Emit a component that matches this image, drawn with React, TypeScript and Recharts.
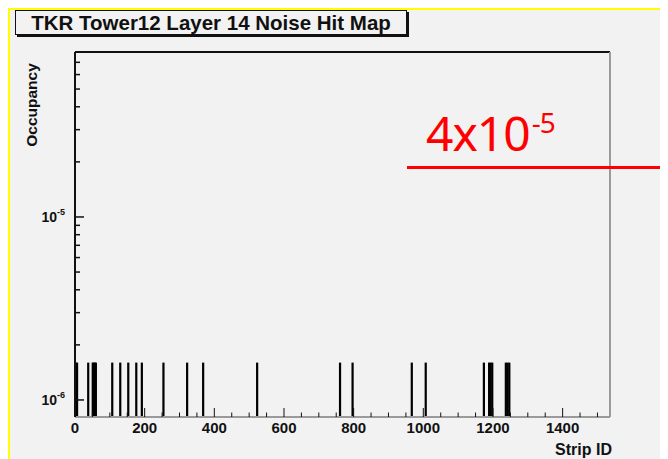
import { BarChart, Bar, XAxis, YAxis, ReferenceLine } from 'recharts';

// strip IDs with one noise hit
const hitStrips = [
  3, 6, 38, 51, 54, 57, 60, 107, 130, 153, 176, 192, 254, 322, 368, 523,
  761, 797, 967, 1007, 1174, 1189, 1193, 1198, 1237, 1242, 1247,
];
// every visible hit sits at the same occupancy
const hitOccupancy = [
  1.6e-6, 1.6e-6, 1.6e-6, 1.6e-6, 1.6e-6, 1.6e-6, 1.6e-6, 1.6e-6, 1.6e-6,
  1.6e-6, 1.6e-6, 1.6e-6, 1.6e-6, 1.6e-6, 1.6e-6, 1.6e-6, 1.6e-6, 1.6e-6,
  1.6e-6, 1.6e-6, 1.6e-6, 1.6e-6, 1.6e-6, 1.6e-6, 1.6e-6, 1.6e-6, 1.6e-6,
];

const xMajorTicks = [0, 200, 400, 600, 800, 1000, 1200, 1400];
const xAllTicks = [
  0, 50, 100, 150, 200, 250, 300, 350, 400, 450, 500, 550, 600, 650, 700, 750,
  800, 850, 900, 950, 1000, 1050, 1100, 1150, 1200, 1250, 1300, 1350, 1400,
  1450, 1500,
];
const yMajorTicks = [1e-6, 1e-5];
const yMajorLabels = ['-6', '-5'];
const yAllTicks = [
  1e-6, 2e-6, 3e-6, 4e-6, 5e-6, 6e-6, 7e-6, 8e-6, 9e-6,
  1e-5, 2e-5, 3e-5, 4e-5, 5e-5, 6e-5, 7e-5,
];
const yDomain = [8.07e-7, 7.97e-5];
const xDomain = [0, 1536];

const data = hitStrips.map((strip, i) => ({ strip, occ: hitOccupancy[i] }));

const INK = '#111';

// the bins are far narrower than a pixel, so give every hit a visible stroke
function HitBar({ x, y, width, height }: any) {
  const cx = x + width / 2;
  return <rect x={cx - 1.1} y={y} width={2.2} height={height} fill="#000" />;
}

function XTick({ x, y, payload }: any) {
  const major = xMajorTicks.includes(payload.value);
  return (
    <g>
      <line x1={x} x2={x} y1={y} y2={y - (major ? 9 : 4.5)} stroke={INK} strokeWidth={1} />
      {major && (
        <text x={x} y={y + 16} textAnchor="middle" fontSize={15} fontWeight="bold" fill={INK}
          fontFamily="Liberation Sans, Arial, sans-serif">
          {payload.value}
        </text>
      )}
    </g>
  );
}

function YTick({ x, y, payload }: any) {
  const idx = yMajorTicks.findIndex((t) => Math.abs(t - payload.value) / t < 1e-6);
  const major = idx >= 0;
  return (
    <g>
      <line x1={x} x2={x + (major ? 9 : 5)} y1={y} y2={y} stroke={INK} strokeWidth={1.5} />
      {major && (
        <text x={x - 10} y={y + 5} textAnchor="end" fontSize={14} fontWeight="bold" fill={INK}
          fontFamily="Liberation Sans, Arial, sans-serif">
          <tspan>10</tspan>
          <tspan dy={-7} fontSize={9}>{yMajorLabels[idx]}</tspan>
        </text>
      )}
    </g>
  );
}

export default function App() {
  return (
    <div style={{ position: 'relative', width: 660, height: 451, background: '#f2f2f2', overflow: 'hidden' }}>
      <div style={{ position: 'absolute', left: 0, top: 0, width: 660, height: 2, background: '#ffff00' }} />
      <div style={{ position: 'absolute', left: 0, top: 0, width: 2, height: 451, background: '#ffff00' }} />

      <BarChart
        width={660}
        height={451}
        data={data}
        margin={{ top: 44, right: 58, bottom: 12, left: 0 }}
        style={{ position: 'absolute', left: 0, top: 0 }}
      >
        <XAxis
          dataKey="strip"
          type="number"
          domain={xDomain}
          ticks={xAllTicks}
          interval={0}
          allowDataOverflow
          height={30}
          tickSize={0}
          tickMargin={0}
          tick={<XTick />}
          axisLine={{ stroke: '#9a9a9a', strokeWidth: 2 }}
          tickLine={false}
        />
        <YAxis
          scale="log"
          domain={yDomain}
          ticks={yAllTicks}
          interval={0}
          allowDataOverflow
          width={67}
          tickSize={0}
          tickMargin={0}
          tick={<YTick />}
          axisLine={{ stroke: INK, strokeWidth: 2 }}
          tickLine={false}
        />
        <ReferenceLine y={yDomain[1]} stroke={INK} strokeWidth={2} />
        <ReferenceLine x={xDomain[1]} stroke="#9a9a9a" strokeWidth={2} />
        <Bar dataKey="occ" fill="#000" barSize={1} shape={<HitBar />} isAnimationActive={false} />
      </BarChart>

      {/* title box */}
      <div
        style={{
          position: 'absolute', left: 7, top: 2, width: 392, height: 25, boxSizing: 'border-box',
          border: `1px solid ${INK}`, boxShadow: `2px 2px 0 ${INK}`, background: '#f2f2f2',
          fontFamily: 'Liberation Sans, Arial, sans-serif', fontWeight: 'bold', fontSize: 20.5,
          color: INK, lineHeight: '23px', textAlign: 'center', whiteSpace: 'nowrap',
        }}
      >
        TKR Tower12 Layer 14 Noise Hit Map
      </div>

      {/* axis titles */}
      <div
        style={{
          position: 'absolute', left: 24, top: 97, transform: 'translate(-50%, -50%) rotate(-90deg)',
          fontFamily: 'Liberation Sans, Arial, sans-serif', fontWeight: 'bold', fontSize: 15.5, color: INK,
          whiteSpace: 'nowrap',
        }}
      >
        Occupancy
      </div>
      <div
        style={{
          position: 'absolute', right: 56, top: 434, fontFamily: 'Liberation Sans, Arial, sans-serif',
          fontWeight: 'bold', fontSize: 16, color: INK, whiteSpace: 'nowrap', lineHeight: '16px',
        }}
      >
        Strip ID
      </div>

      {/* red annotation */}
      <div
        style={{
          position: 'absolute', left: 418, top: 95, color: '#ff0000', fontFamily: 'Noto Sans, sans-serif',
          fontSize: 48, lineHeight: '60px', whiteSpace: 'nowrap', letterSpacing: -1,
        }}
      >
        4x10
        <span style={{ fontSize: 28, position: 'relative', top: -18, marginLeft: 2 }}>-5</span>
      </div>
      <div style={{ position: 'absolute', left: 399, top: 158, width: 261, height: 3, background: '#ff0000' }} />
    </div>
  );
}
